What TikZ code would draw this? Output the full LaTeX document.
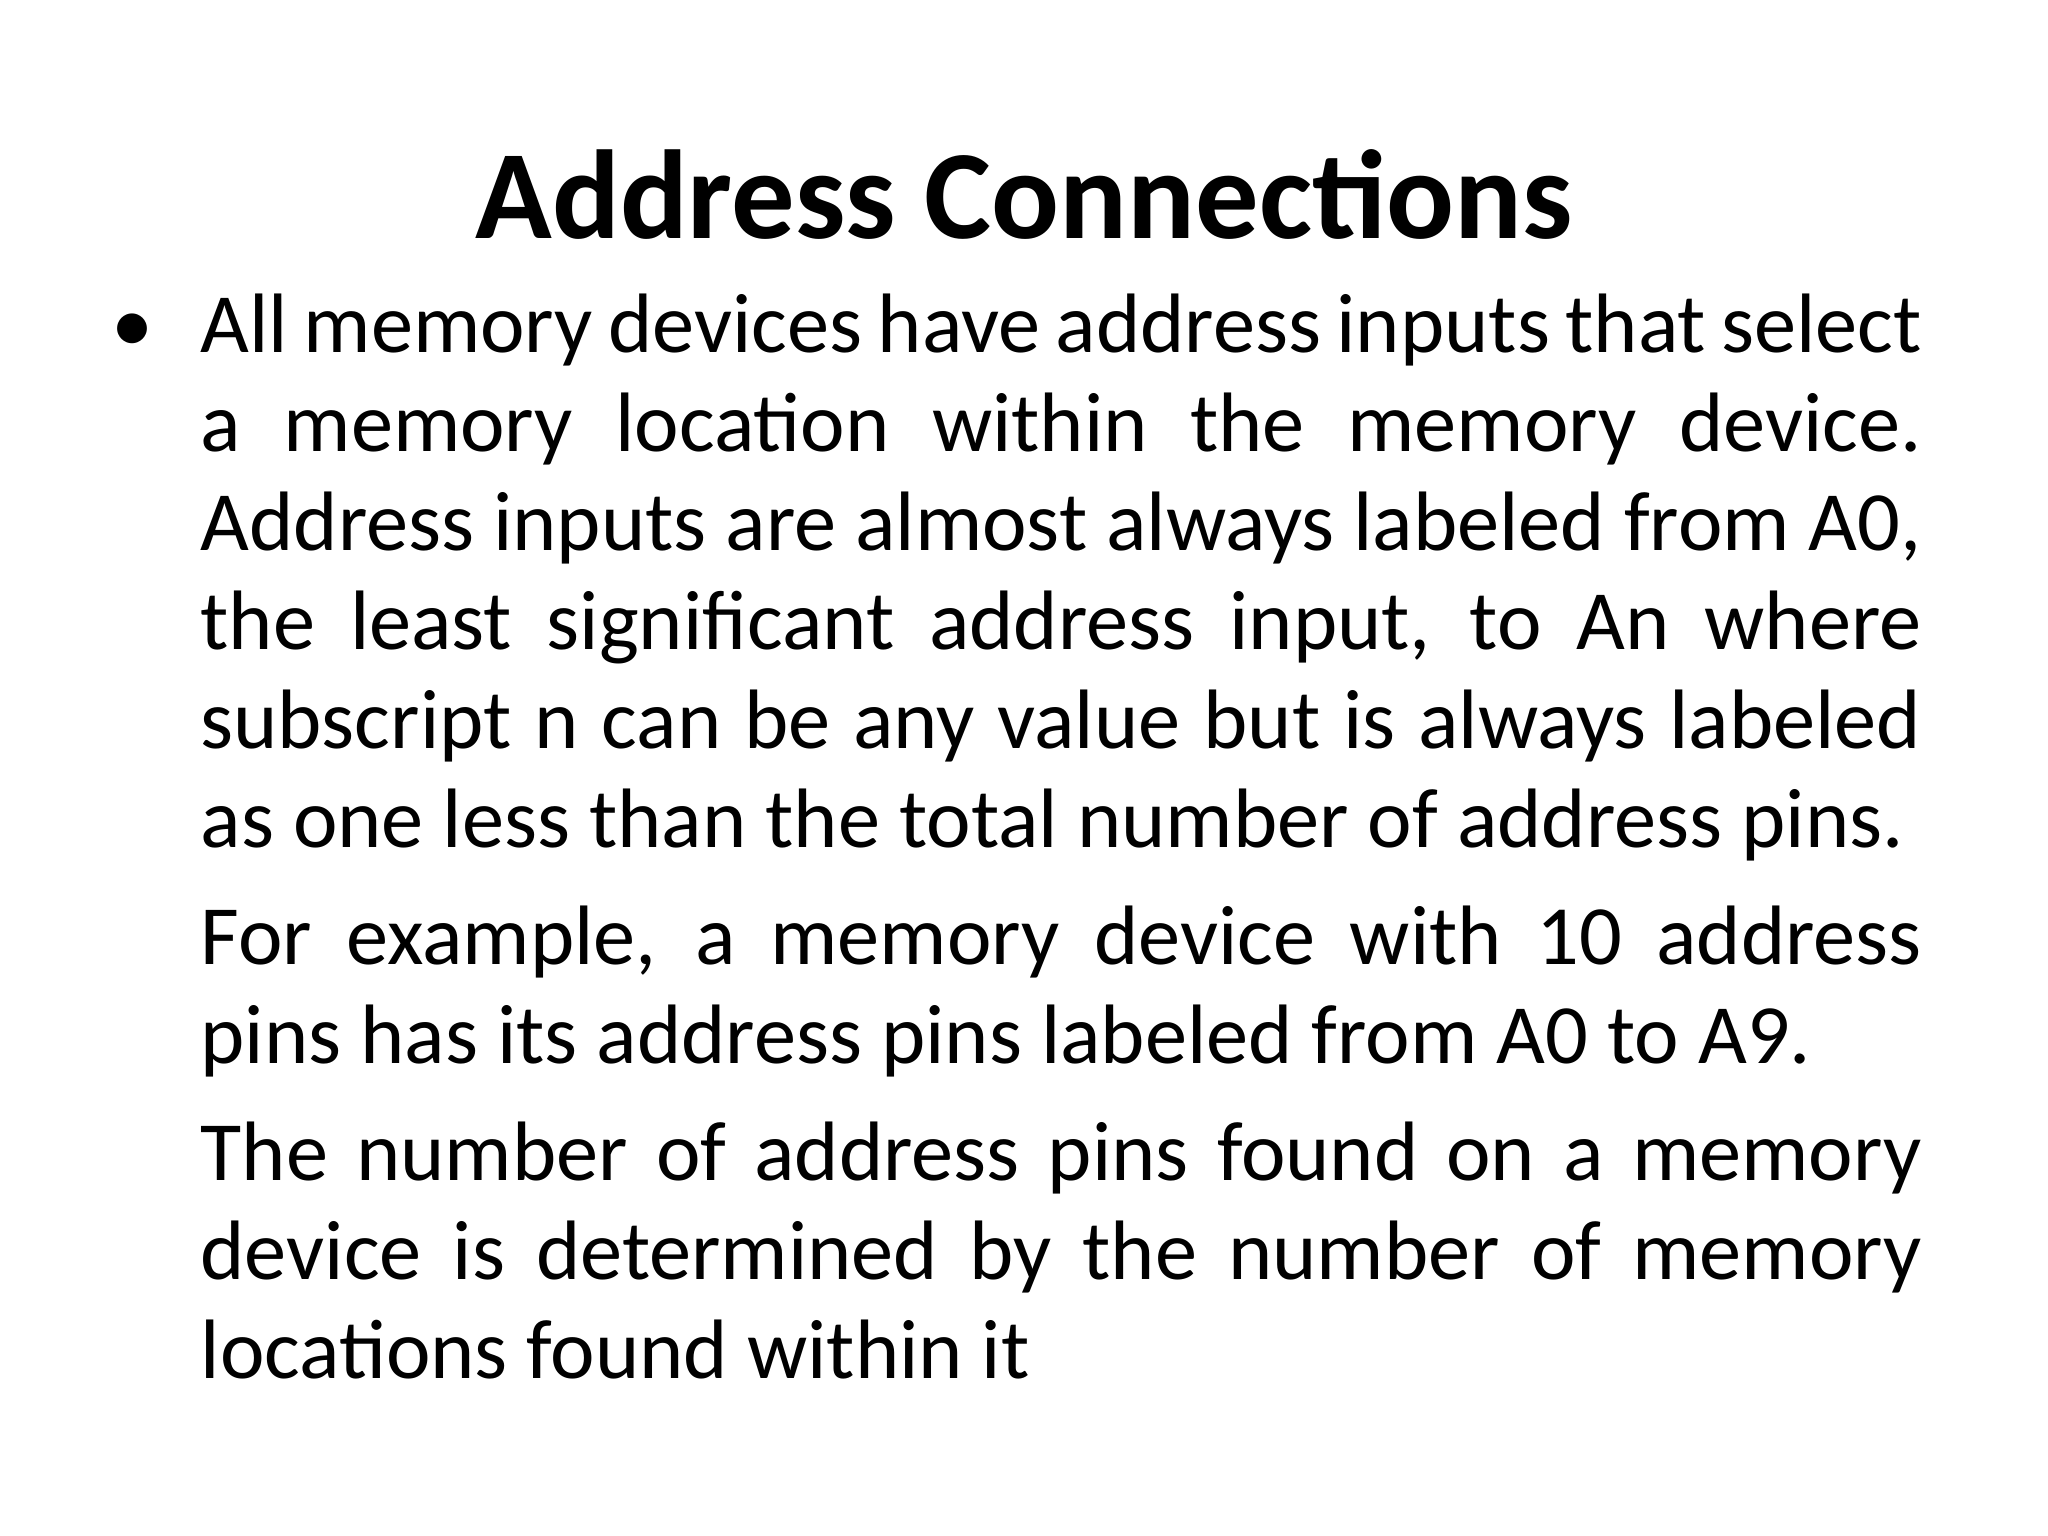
\documentclass[tikz,border=0pt]{standalone}
\usepackage{fontspec}
\setmainfont{Carlito}
\begin{document}
\begin{tikzpicture}[x=1cm,y=1cm,
  body/.style={inner sep=0pt,anchor=north west,text width=17.21cm,align=justify,font=\fontsize{24pt}{28.2pt}\selectfont}]
\useasboundingbox (0,0) rectangle (20.48,-15.36);
\fill[white] (0,0) rectangle (20.48,-15.36);
\node[anchor=base,inner sep=0pt,font=\fontsize{36pt}{40pt}\selectfont\bfseries] (title) at (10.24,-2.39) {Address Connections};
\node[anchor=base,inner sep=0pt,font=\fontsize{24pt}{28pt}\selectfont] (bul) at (1.33,-3.53) {•};
\node[body] (txt) at (2.0,-2.93) {%
All memory devices have address inputs that select\linebreak
a memory location within the memory device.\linebreak
Address inputs are almost always labeled from A0,\linebreak
the least significant address input, to An where\linebreak
subscript n can be any value but is always labeled\linebreak
as one less than the total number of address pins.\par\vspace{5pt}
For example, a memory device with 10 address\linebreak
pins has its address pins labeled from A0 to A9.\par\vspace{5pt}
The number of address pins found on a memory\linebreak
device is determined by the number of memory\linebreak
locations found within it};
\end{tikzpicture}
\end{document}
